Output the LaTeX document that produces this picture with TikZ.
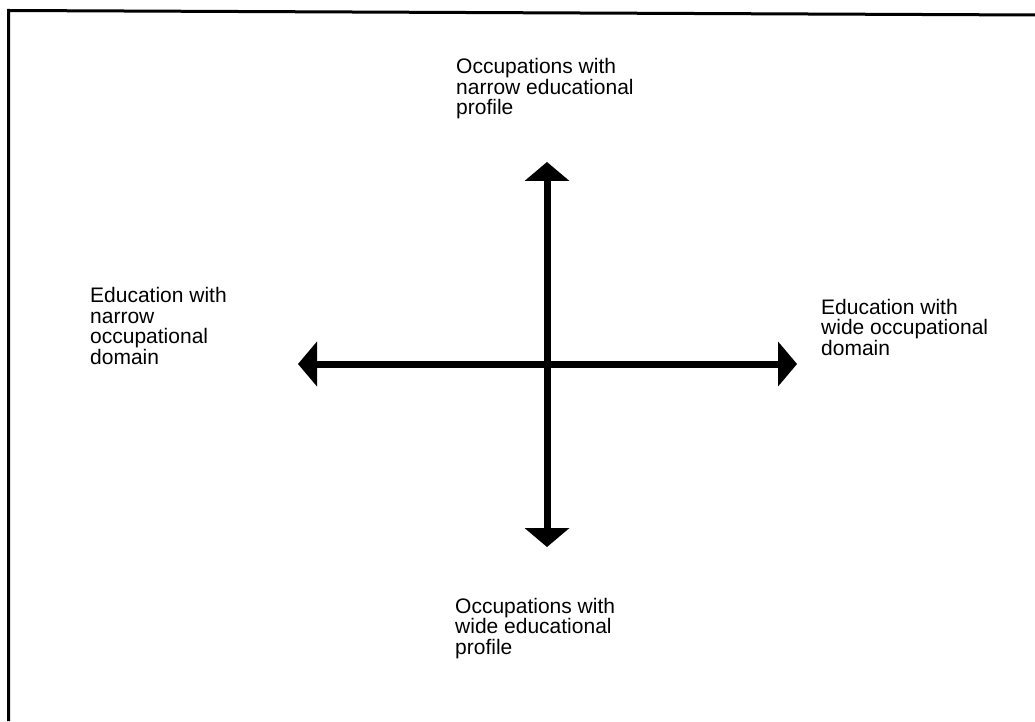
\documentclass[tikz,border=0pt]{standalone}
\usepackage{fontspec}
\setmainfont{Liberation Sans}
\usetikzlibrary{arrows.meta}
\begin{document}
\begin{tikzpicture}[x=1pt,y=1pt,
  axis/.style={line width=7pt,{Triangle[length=19pt,width=45pt,line width=0pt]}-{Triangle[length=19pt,width=45pt,line width=0pt]}},
  frame/.style={line width=3pt},
  lbl/.style={anchor=base west,inner sep=0pt,align=left,font=\fontsize{21}{20.5}\selectfont}]
\useasboundingbox (0,0) rectangle (1035,721);
% frame (only top and left edges visible)
\coordinate (fa) at (8.5,0);
\coordinate (fb) at (8.7,710.5);
\coordinate (fc) at (1035,706);
\draw[frame] (fa) -- (fb) -- (fc);
% axes
\coordinate (L) at (298,357);
\coordinate (R) at (797,357);
\coordinate (T) at (547,559);
\coordinate (B) at (547,174);
\draw[axis] (L) -- (R);
\draw[axis] (B) -- (T);
% labels (base anchor = baseline of last line)
\node[lbl] (top) at (456,606) {Occupations with\\narrow educational\\profile};
\node[lbl] (left) at (90,357) {Education with\\narrow\\occupational\\domain};
\node[lbl] (right) at (821,366) {Education with\\wide occupational\\domain};
\node[lbl] (bottom) at (455,67) {Occupations with\\wide educational\\profile};
\end{tikzpicture}
\end{document}
